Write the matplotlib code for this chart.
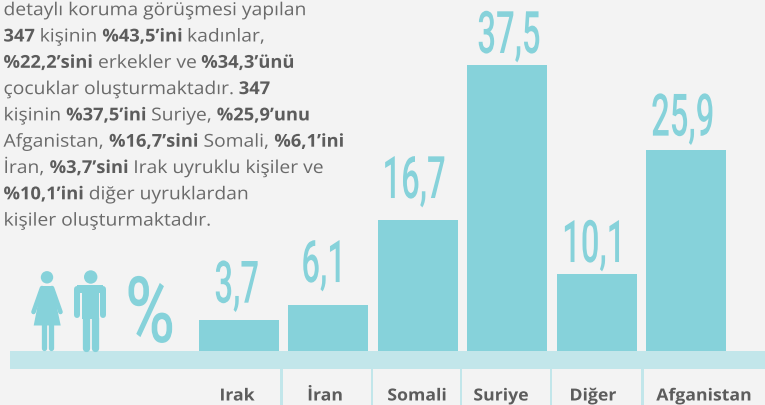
import matplotlib
matplotlib.use("Agg")
import matplotlib.pyplot as plt
from matplotlib.patches import Circle, Polygon, Rectangle
from matplotlib.patheffects import AbstractPathEffect
from matplotlib.transforms import Affine2D

categories = ["Irak", "İran", "Somali", "Suriye", "Diğer", "Afganistan"]
values = [4.05, 6.0, 17.1, 37.3, 10.05, 26.25]  # bar heights
value_labels = ["3,7", "6,1", "16,7", "37,5", "10,1", "25,9"]

paragraph = [
    [("detaylı koruma görüşmesi yapılan", False)],
    [("347", True), (" kişinin ", False), ("%43,5’ini", True), (" kadınlar,", False)],
    [("%22,2’sini", True), (" erkekler ve ", False), ("%34,3’ünü", True)],
    [("çocuklar oluşturmaktadır. ", False), ("347", True)],
    [("kişinin ", False), ("%37,5’ini", True), (" Suriye, ", False), ("%25,9’unu", True)],
    [("Afganistan, ", False), ("%16,7’sini", True), (" Somali, ", False), ("%6,1’ini", True)],
    [("İran, ", False), ("%3,7’sini", True), (" Irak uyruklu kişiler ve", False)],
    [("%10,1’ini", True), (" diğer uyruklardan", False)],
    [("kişiler oluşturmaktadır.", False)],
]

# layout, in pixels of the 765x405 picture
label_centers = [237, 325, 417, 501, 593, 704]
separators = [281.5, 372, 461, 551, 642.5]
value_gaps = [17.3, 23, 22, 12.3, 12, 14.3]
value_dx = [-2.3, -3, -4.3, 1.7, -1.5, -3]

BG = "#f3f3f3"
BAR = "#86d2da"
BAND = "#c2e6ea"
TXT = "#6a6a6a"
TXT_B = "#5c5c5c"
W, H = 765, 405
PX_PER_UNIT = 7.66
STEP = 89.4
FIRST = 239
PT = 0.72  # points per pixel at dpi 100


class Squeeze(AbstractPathEffect):
    """Scales a text horizontally about its own centre."""
    def __init__(self, sx):
        super().__init__()
        self.sx = sx

    def draw_path(self, renderer, gc, tpath, affine, rgbFace=None):
        ext = tpath.get_extents(affine)
        cx = (ext.x0 + ext.x1) / 2
        t = affine + Affine2D().translate(-cx, 0).scale(self.sx, 1).translate(cx, 0)
        renderer.draw_path(gc, tpath, t, rgbFace)


class Stretch(AbstractPathEffect):
    """Scales a text horizontally about its origin."""
    def __init__(self, sx):
        super().__init__()
        self.sx = sx

    def draw_path(self, renderer, gc, tpath, affine, rgbFace=None):
        ox = affine.get_matrix()[0, 2]
        t = affine + Affine2D().translate(-ox, 0).scale(self.sx, 1).translate(ox, 0)
        renderer.draw_path(gc, tpath, t, rgbFace)


fig = plt.figure(figsize=(W / 100, H / 100), dpi=100, facecolor=BG)

px = fig.add_axes([0, 0, 1, 1], zorder=1)
px.set_xlim(0, W)
px.set_ylim(H, 0)
px.axis("off")

ax = fig.add_axes([0, (H - 351) / H, 1, 351 / H], zorder=2)
ax.patch.set_alpha(0)
ax.set_xlim(-FIRST / STEP, (W - FIRST) / STEP)
ax.set_ylim(0, 351 / PX_PER_UNIT)
ax.axis("off")
ax.bar(range(len(values)), values, width=80 / STEP, color=BAR, linewidth=0)
for i, (v, s) in enumerate(zip(values, value_labels)):
    ax.annotate(s, (i, v), xytext=(value_dx[i] * PT, value_gaps[i] * PT),
                textcoords="offset points", ha="center", va="baseline", color=BAR,
                family="Roboto", fontweight=500, fontsize=42.2,
                path_effects=[Squeeze(0.56)])

px.add_patch(Rectangle((10, 351), W - 10, 18, fc=BAND, lw=0))
for x in separators:
    px.add_patch(Rectangle((x - 1.2, 369), 2.4, H - 369, fc=BAND, lw=0))

for x, c in zip(label_centers, categories):
    px.text(x, 400.5, c, ha="center", va="baseline", family="Open Sans",
            fontweight="bold", fontsize=12, color=TXT_B, path_effects=[Squeeze(1.06)])

px.text(150, 342, "%", ha="center", va="baseline", family="Roboto", fontweight=500,
        fontsize=66, color=BAR, path_effects=[Squeeze(0.74)])


def limb(xs, ys, w):
    px.plot(xs, ys, color=BAR, lw=w * PT, solid_capstyle="round", solid_joinstyle="round")


# woman
px.add_patch(Circle((47, 277.3), 6.2, fc=BAR, lw=0))
px.add_patch(Polygon([(41.5, 286), (52.5, 286), (60.7, 325.5), (33.7, 325.5)], fc=BAR, lw=0))
limb([42, 33.5], [288, 312], 4.6)
limb([52, 60.5], [288, 312], 4.6)
limb([43.6, 43.6], [325, 348.4], 5.3)
limb([51, 51], [325, 348.4], 5.3)
# man
px.add_patch(Circle((90.7, 277), 6.7, fc=BAR, lw=0))
px.add_patch(Rectangle((82, 285), 17.2, 34, fc=BAR, lw=0))
px.add_patch(Rectangle((77.5, 285), 26, 8, fc=BAR, lw=0))
limb([77.5, 77.5, 103.5, 103.5], [314.5, 288.5, 288.5, 314.5], 6)
limb([85.7, 85.7], [318, 347.5], 7.3)
limb([95.3, 95.3], [318, 347.5], 7.3)

rend = fig.canvas.get_renderer()
baseline0, leading = 15.2, 26.3
SX_REG, SX_BOLD = 1.085, 1.03
for n, runs in enumerate(paragraph):
    x = 3.5
    y = baseline0 + n * leading
    for s, bold in runs:
        sx = SX_BOLD if bold else SX_REG
        t = px.text(x, y, s, ha="left", va="baseline", family="Open Sans",
                    fontsize=12.8, fontweight="bold" if bold else "normal",
                    color=TXT_B if bold else TXT, path_effects=[Stretch(sx)])
        fp = t.get_fontproperties()
        w_all = rend.get_text_width_height_descent(s + "|", fp, False)[0]
        w_bar = rend.get_text_width_height_descent("|", fp, False)[0]
        x += (w_all - w_bar) * sx

fig.savefig("out.png", dpi=100, facecolor=BG)
